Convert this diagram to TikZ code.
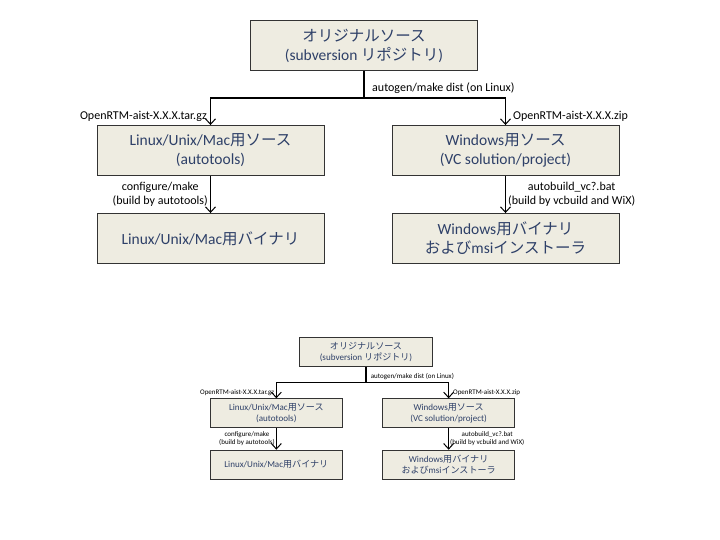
\documentclass[tikz,border=0pt]{standalone}
\usepackage{fontspec}
\setmainfont{Carlito}
\newfontfamily\jpfont{Noto Sans CJK JP}
\usetikzlibrary{arrows.meta}
\newcommand\J[1]{{\jpfont #1}}
\definecolor{boxfill}{HTML}{EEECE1}
\definecolor{boxtext}{HTML}{2E4068}
\tikzset{
  box/.style={draw=black!80, line width=0.9pt, fill=boxfill, minimum width=227pt, minimum height=50pt,
    align=center, font=\fontsize{15.5}{19}\selectfont, text=boxtext, inner sep=0pt},
  conn/.style={line width=1.4pt, draw=black},
  arr/.style={conn, -{Straight Barb[length=5.5pt,width=10pt,line width=1pt]}},
  lbl/.style={font=\fontsize{12}{13.5}\selectfont, inner sep=0pt, align=center},
}
\newcommand\flowdiagram[1]{%
  \node[box] (#1top) at (364,45.5) {\J{オリジナルソース}\\(subversion \J{リポジトリ})};
  \node[box] (#1lsrc) at (210.5,150.5) {Linux/Unix/Mac\J{用ソース}\\(autotools)};
  \node[box] (#1lbin) at (210.5,238.5) {Linux/Unix/Mac\J{用バイナリ}};
  \node[box] (#1wsrc) at (505.5,150.5) {Windows\J{用ソース}\\(VC solution/project)};
  \node[box] (#1wbin) at (505.5,238.5) {Windows\J{用バイナリ}\\\J{および}msi\J{インストーラ}};
  \coordinate (#1split) at (364,98);
  \draw[conn] (#1top.south) -- (#1split);
  \draw[arr] (#1split) -| (#1lsrc.north);
  \draw[arr] (#1split) -| (#1wsrc.north);
  \draw[arr] (#1lsrc.south) -- (#1lbin.north);
  \draw[arr] (#1wsrc.south) -- (#1wbin.north);
  \node[lbl, anchor=west] (#1la) at (372,88) {autogen/make dist (on Linux)};
  \node[lbl, anchor=east] (#1lb) at (207,116) {OpenRTM-aist-X.X.X.tar.gz};
  \node[lbl, anchor=west] (#1lc) at (513,116) {OpenRTM-aist-X.X.X.zip};
  \node[lbl, anchor=east] (#1ld) at (208,194.5) {configure/make\\(build by autotools)};
  \node[lbl, anchor=west] (#1le) at (508,194.5) {autobuild\_vc?.bat\\(build by vcbuild and WiX)};
}
\begin{document}
\begin{tikzpicture}[x=1pt,y=-1pt]
  \useasboundingbox (0,0) rectangle (720,540);
  \fill[white] (0,0) rectangle (720,540);
  \flowdiagram{A}
  \begin{scope}[shift={(153.4,325.3)}, scale=0.584, transform shape]
    \flowdiagram{B}
  \end{scope}
\end{tikzpicture}
\end{document}
